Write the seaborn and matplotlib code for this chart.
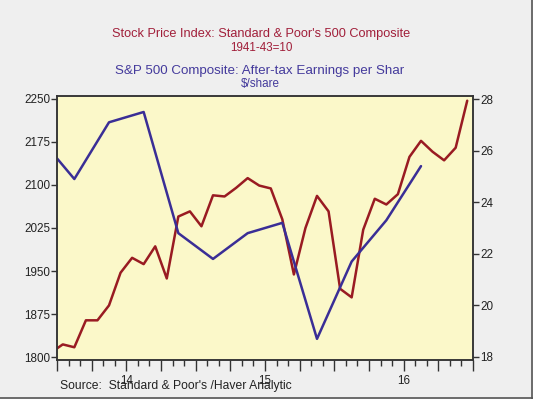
import matplotlib
matplotlib.use("Agg")
import matplotlib.pyplot as plt
from matplotlib.lines import Line2D
import seaborn as sns
import numpy as np
import pandas as pd

# monthly S&P 500 index (Dec 2013 .. Dec 2016), plotted at mid-month
sp_months = np.arange(-1, 36) + 0.5
sp_index = [1808, 1822, 1817, 1864, 1864, 1890, 1947, 1973, 1962, 1993, 1937, 2045, 2054,
            2028, 2082, 2080, 2095, 2112, 2099, 2094, 2040, 1944, 2025, 2081, 2054,
            1919, 1904, 2022, 2076, 2066, 2084, 2149, 2177, 2158, 2143, 2165, 2247]

# quarterly after-tax earnings per share (Q4 2013 .. Q3 2016), plotted at mid-quarter
eps_quarters = np.arange(-1, 11) * 3 + 1.5
eps = [26.5, 24.9, 27.1, 27.5, 22.8, 21.8, 22.8, 23.2, 18.7, 21.7, 23.3, 25.4]

year_labels = ["14", "15", "16"]

sns.set_style("ticks")
plt.rcParams["font.family"] = ["Liberation Sans", "DejaVu Sans"]

red = "#991b22"
blue = "#3a2e96"

fig = plt.figure(figsize=(5.33, 3.99), dpi=100, facecolor="#efefef")
ax = fig.add_axes([57 / 533, 1 - 360 / 399, 416 / 533, 264 / 399])
ax.set_facecolor("#fbf8c9")

sp_df = pd.DataFrame({"month": sp_months, "index": sp_index})
eps_df = pd.DataFrame({"month": eps_quarters, "eps": eps})

sns.lineplot(data=sp_df, x="month", y="index", ax=ax, color=red, lw=1.8)
ax2 = ax.twinx()
sns.lineplot(data=eps_df, x="month", y="eps", ax=ax2, color=blue, lw=1.8)

ax.set_xlim(0, 36)
ax.set_ylim(1794.8, 2255.2)
ax2.set_ylim(17.88, 28.12)
ax.set_yticks([1800, 1875, 1950, 2025, 2100, 2175, 2250])
ax2.set_yticks([18, 20, 22, 24, 26, 28])

quarter_ticks = np.arange(0, 37, 3)
qlabels = [""] * len(quarter_ticks)
for i, lab in enumerate(year_labels):
    qlabels[2 + 4 * i] = lab
ax.set_xticks(quarter_ticks)
ax.set_xticklabels(qlabels)
ax.set_xticks(np.arange(0, 37), minor=True)

for a in (ax, ax2):
    a.set_xlabel("")
    a.set_ylabel("")
    for s in a.spines.values():
        s.set_visible(True)
        s.set_color("#333333")
        s.set_linewidth(1.1)
ax.tick_params(axis="x", which="major", length=8, width=1, color="#333333",
               labelsize=8.4, labelcolor="#222222", pad=3)
ax.tick_params(axis="x", which="minor", length=4, width=1, color="#333333")
ax.tick_params(axis="y", length=4, width=1, color="#333333", labelsize=8.4,
               labelcolor="#222222", pad=1)
ax2.tick_params(axis="y", length=4, width=1, color="#333333", labelsize=8.4,
                labelcolor="#222222", pad=1)

fig.text(261 / 533, 1 - 34 / 399, "Stock Price Index: Standard & Poor's 500 Composite",
         ha="center", va="center", color="#a11f3a", fontsize=9.2)
fig.text(261 / 533, 1 - 48 / 399, "1941-43=10", ha="center", va="center",
         color="#a11f3a", fontsize=8.4)
fig.text(260 / 533, 1 - 71 / 399, "S&P 500 Composite: After-tax Earnings per Shar",
         ha="center", va="center", color="#443a9c", fontsize=9.6)
fig.text(260 / 533, 1 - 84 / 399, "$/share", ha="center", va="center",
         color="#443a9c", fontsize=8.4)
fig.text(60 / 533, 1 - 386 / 399, "Source:  Standard & Poor's /Haver Analytic",
         ha="left", va="center", color="#222222", fontsize=8.7)

fig.add_artist(Line2D([0, 1], [1.5 / 399, 1.5 / 399], color="#555555", lw=1.2))
fig.add_artist(Line2D([1 - 1.5 / 533, 1 - 1.5 / 533], [0, 1], color="#555555", lw=1.2))

fig.savefig("out.png", dpi=100, facecolor=fig.get_facecolor())
